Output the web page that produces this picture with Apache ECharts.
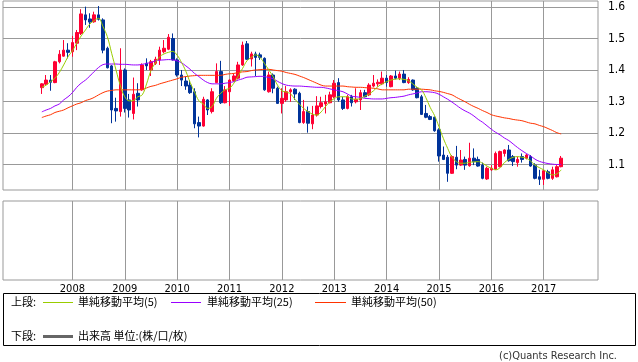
<!DOCTYPE html>
<html><head><meta charset="utf-8">
<script src="https://cdn.jsdelivr.net/npm/echarts@6/dist/echarts.min.js"></script>
<style>html,body{margin:0;padding:0;background:#fff}#c{width:638px;height:362px}</style>
</head><body><div id="c"></div>
<script>
const months = [
'2007-06','2007-07','2007-08','2007-09','2007-10','2007-11','2007-12',
'2008-01','2008-02','2008-03','2008-04','2008-05','2008-06','2008-07','2008-08','2008-09','2008-10','2008-11','2008-12',
'2009-01','2009-02','2009-03','2009-04','2009-05','2009-06','2009-07','2009-08','2009-09','2009-10','2009-11','2009-12',
'2010-01','2010-02','2010-03','2010-04','2010-05','2010-06','2010-07','2010-08','2010-09','2010-10','2010-11','2010-12',
'2011-01','2011-02','2011-03','2011-04','2011-05','2011-06','2011-07','2011-08','2011-09','2011-10','2011-11','2011-12',
'2012-01','2012-02','2012-03','2012-04','2012-05','2012-06','2012-07','2012-08','2012-09','2012-10','2012-11','2012-12',
'2013-01','2013-02','2013-03','2013-04','2013-05','2013-06','2013-07','2013-08','2013-09','2013-10','2013-11','2013-12',
'2014-01','2014-02','2014-03','2014-04','2014-05','2014-06','2014-07','2014-08','2014-09','2014-10','2014-11','2014-12',
'2015-01','2015-02','2015-03','2015-04','2015-05','2015-06','2015-07','2015-08','2015-09','2015-10','2015-11','2015-12',
'2016-01','2016-02','2016-03','2016-04','2016-05','2016-06','2016-07','2016-08','2016-09','2016-10','2016-11','2016-12',
'2017-01','2017-02','2017-03','2017-04','2017-05'];

const open = [
1.344,1.355,1.368,1.360,1.426,1.444,1.463,
1.458,1.485,1.516,1.575,1.562,1.553,1.575,1.559,1.469,1.413,1.278,1.268,
1.400,1.305,1.262,1.326,1.337,1.421,1.400,1.421,1.432,1.458,1.466,1.500,
1.432,1.384,1.365,1.352,1.331,1.233,1.222,1.305,1.268,1.360,1.395,1.296,
1.331,1.366,1.374,1.416,1.483,1.435,1.451,1.448,1.437,1.331,1.384,1.342,
1.294,1.305,1.331,1.339,1.326,1.233,1.268,1.229,1.257,1.284,1.292,1.296,
1.315,1.360,1.305,1.278,1.315,1.299,1.305,1.328,1.321,1.349,1.356,1.356,
1.374,1.347,1.381,1.374,1.387,1.360,1.368,1.342,1.315,1.262,1.252,1.250,
1.210,1.130,1.123,1.072,1.123,1.098,1.116,1.096,1.120,1.116,1.098,1.054,
1.083,1.085,1.093,1.135,1.146,1.125,1.106,1.125,1.120,1.125,1.098,1.061,
1.053,1.077,1.056,1.061,1.093];
const close = [
1.356,1.368,1.361,1.426,1.450,1.463,1.456,
1.487,1.519,1.578,1.559,1.552,1.575,1.561,1.463,1.407,1.273,1.270,1.400,
1.278,1.273,1.323,1.305,1.416,1.413,1.426,1.434,1.463,1.469,1.504,1.432,
1.384,1.368,1.349,1.328,1.229,1.222,1.307,1.273,1.331,1.395,1.296,1.337,
1.368,1.381,1.416,1.479,1.434,1.451,1.440,1.440,1.337,1.384,1.342,1.294,
1.310,1.331,1.337,1.324,1.233,1.268,1.231,1.257,1.286,1.296,1.299,1.321,
1.358,1.305,1.278,1.315,1.296,1.307,1.328,1.315,1.352,1.358,1.361,1.374,
1.360,1.381,1.374,1.387,1.360,1.370,1.337,1.312,1.259,1.250,1.243,1.207,
1.127,1.116,1.072,1.125,1.098,1.114,1.098,1.120,1.109,1.095,1.056,1.088,
1.088,1.135,1.141,1.146,1.112,1.109,1.116,1.116,1.130,1.095,1.056,1.053,
1.080,1.056,1.083,1.093,1.120];
const low = [
1.324,1.352,1.334,1.358,1.421,1.442,1.437,
1.442,1.463,1.511,1.543,1.534,1.550,1.557,1.453,1.405,1.231,1.236,1.252,
1.265,1.249,1.243,1.284,1.334,1.400,1.381,1.416,1.416,1.453,1.463,1.430,
1.379,1.349,1.337,1.324,1.215,1.186,1.220,1.257,1.262,1.358,1.292,1.294,
1.286,1.363,1.370,1.413,1.432,1.411,1.381,1.432,1.334,1.328,1.326,1.292,
1.262,1.299,1.299,1.305,1.231,1.229,1.201,1.212,1.252,1.278,1.262,1.294,
1.310,1.299,1.273,1.275,1.284,1.294,1.273,1.313,1.317,1.345,1.347,1.352,
1.347,1.345,1.370,1.368,1.358,1.356,1.334,1.310,1.257,1.247,1.241,1.204,
1.109,1.114,1.045,1.070,1.085,1.095,1.083,1.093,1.098,1.093,1.053,1.051,
1.080,1.083,1.091,1.125,1.109,1.095,1.093,1.106,1.116,1.093,1.053,1.035,
1.035,1.053,1.051,1.059,1.091];
const high = [
1.358,1.384,1.384,1.429,1.463,1.495,1.485,
1.508,1.527,1.593,1.601,1.580,1.585,1.603,1.564,1.474,1.416,1.312,1.469,
1.405,1.324,1.376,1.358,1.421,1.437,1.432,1.442,1.474,1.495,1.514,1.516,
1.437,1.400,1.379,1.368,1.342,1.252,1.315,1.307,1.342,1.421,1.429,1.349,
1.370,1.389,1.426,1.490,1.492,1.458,1.458,1.455,1.440,1.395,1.389,1.347,
1.342,1.349,1.342,1.342,1.331,1.305,1.284,1.286,1.317,1.315,1.321,1.331,
1.368,1.374,1.315,1.321,1.321,1.342,1.337,1.337,1.358,1.384,1.370,1.395,
1.384,1.384,1.398,1.395,1.400,1.377,1.370,1.345,1.321,1.289,1.257,1.252,
1.215,1.157,1.130,1.130,1.159,1.146,1.125,1.169,1.151,1.125,1.106,1.093,
1.098,1.141,1.144,1.148,1.162,1.130,1.125,1.135,1.133,1.130,1.104,1.083,
1.083,1.083,1.093,1.098,1.127];

const ma5 = [
1.345,1.352,1.363,1.374,1.392,1.416,1.442,
1.461,1.485,1.508,1.527,1.546,1.557,1.564,1.538,1.506,1.453,1.400,1.350,
1.315,1.302,1.303,1.315,1.321,1.356,1.398,1.422,1.442,1.451,1.456,1.459,
1.447,1.424,1.396,1.360,1.330,1.302,1.292,1.278,1.284,1.310,1.326,1.337,
1.342,1.358,1.381,1.405,1.429,1.440,1.448,1.440,1.421,1.400,1.379,1.352,
1.334,1.330,1.324,1.307,1.292,1.278,1.268,1.260,1.257,1.267,1.284,1.299,
1.309,1.315,1.315,1.315,1.308,1.307,1.310,1.317,1.324,1.334,1.347,1.356,
1.363,1.368,1.371,1.372,1.370,1.366,1.356,1.345,1.337,1.312,1.281,1.255,
1.220,1.183,1.151,1.123,1.109,1.104,1.104,1.107,1.108,1.109,1.104,1.095,
1.088,1.083,1.090,1.106,1.116,1.123,1.125,1.123,1.120,1.111,1.098,1.090,
1.083,1.074,1.067,1.070,1.083];
const ma25 = [
1.267,1.273,1.278,1.286,1.292,1.305,1.315,
1.328,1.345,1.358,1.368,1.381,1.395,1.408,1.417,1.419,1.419,1.419,1.418,
1.418,1.417,1.416,1.416,1.418,1.421,1.424,1.429,1.431,1.432,1.433,1.432,
1.429,1.423,1.413,1.402,1.389,1.379,1.368,1.360,1.356,1.356,1.356,1.358,
1.360,1.363,1.368,1.372,1.377,1.378,1.379,1.380,1.379,1.376,1.372,1.364,
1.357,1.352,1.350,1.349,1.349,1.348,1.347,1.346,1.345,1.345,1.343,1.340,
1.337,1.334,1.331,1.324,1.317,1.315,1.313,1.310,1.309,1.308,1.308,1.308,
1.310,1.312,1.313,1.315,1.317,1.321,1.324,1.327,1.331,1.331,1.330,1.328,
1.323,1.315,1.307,1.298,1.288,1.278,1.270,1.263,1.254,1.243,1.234,1.223,
1.212,1.202,1.194,1.184,1.176,1.165,1.154,1.144,1.135,1.127,1.117,1.110,
1.106,1.103,1.101,1.100,1.100];
const ma50 = [
1.249,1.254,1.258,1.265,1.269,1.273,1.280,
1.286,1.292,1.296,1.303,1.307,1.313,1.321,1.328,1.333,1.335,1.337,1.337,
1.337,1.337,1.337,1.337,1.338,1.343,1.348,1.351,1.356,1.360,1.364,1.368,
1.372,1.377,1.379,1.381,1.382,1.383,1.383,1.383,1.383,1.383,1.383,1.386,
1.388,1.389,1.392,1.394,1.395,1.398,1.400,1.401,1.402,1.402,1.400,1.398,
1.396,1.392,1.389,1.386,1.381,1.376,1.370,1.364,1.358,1.352,1.349,1.349,
1.349,1.349,1.349,1.347,1.346,1.345,1.345,1.344,1.343,1.342,1.340,1.337,
1.337,1.337,1.337,1.337,1.337,1.339,1.339,1.339,1.339,1.338,1.337,1.334,
1.332,1.329,1.325,1.321,1.313,1.306,1.299,1.291,1.284,1.278,1.271,1.265,
1.258,1.254,1.251,1.248,1.246,1.243,1.241,1.239,1.235,1.231,1.229,1.224,
1.220,1.214,1.208,1.201,1.197];

const yTicks = [1.1, 1.2, 1.3, 1.4, 1.5, 1.6];
const yearLabels = ['2008','2009','2010','2011','2012','2013','2014','2015','2016','2017'];

function monthIndex(s) { const p = s.split('-'); return (Number(p[0]) - 2000) * 12 + (Number(p[1]) - 1); }
const xs = months.map(monthIndex);
const yearTicks = yearLabels.map(y => (Number(y) - 2000) * 12);

const X_MIN = 80.1, X_MAX = 216.44;
const gridCol = '#999999';
const font = 'DejaVu Sans Condensed';
const jp = 'Noto Sans CJK JP';

const chart = echarts.init(document.getElementById('c'), null, {renderer: 'canvas'});
const xCommon = {
  type: 'value', min: X_MIN, max: X_MAX,
  axisLine: {show: false},
  axisTick: {show: false, customValues: yearTicks},
  splitLine: {show: true, lineStyle: {color: gridCol, width: 1}},
};
chart.setOption({
  animation: false,
  backgroundColor: '#ffffff',
  grid: [
    {left: 3, right: 40, top: 1, height: 189, show: true, borderColor: gridCol, borderWidth: 1, containLabel: false},
    {left: 3, right: 40, top: 201, height: 79, show: true, borderColor: gridCol, borderWidth: 1, containLabel: false}
  ],
  xAxis: [
    Object.assign({}, xCommon, {gridIndex: 0, axisLabel: {show: false, customValues: yearTicks}}),
    Object.assign({}, xCommon, {gridIndex: 1, axisLabel: {show: true, customValues: yearTicks, margin: 4,
      color: '#000', fontFamily: font, fontSize: 11,
      formatter: v => yearLabels[yearTicks.indexOf(v)] || ''}})
  ],
  yAxis: [
    {type: 'value', gridIndex: 0, position: 'right', min: 1.019, max: 1.619,
     axisLine: {show: false}, axisTick: {show: false, customValues: yTicks},
     axisLabel: {show: true, customValues: yTicks, margin: 10, color: '#000', fontFamily: font, fontSize: 12,
       formatter: v => v.toFixed(1)},
     splitLine: {show: true, lineStyle: {color: gridCol, width: 1}}},
    {type: 'value', gridIndex: 1, position: 'right', min: 0, max: 1,
     axisLine: {show: false}, axisTick: {show: false}, axisLabel: {show: false}, splitLine: {show: false}}
  ],
  series: [
    {type: 'candlestick', xAxisIndex: 0, yAxisIndex: 0, barWidth: 3,
     data: xs.map((x, i) => [x, open[i], close[i], low[i], high[i]]),
     itemStyle: {color: '#ff0033', color0: '#003399', borderColor: '#ff0033', borderColor0: '#003399', borderWidth: 1}},
    {type: 'line', xAxisIndex: 0, yAxisIndex: 0, showSymbol: false, smooth: 0.4,
     data: xs.map((x, i) => [x, ma50[i]]), lineStyle: {color: '#ff3300', width: 1}},
    {type: 'line', xAxisIndex: 0, yAxisIndex: 0, showSymbol: false, smooth: 0.4,
     data: xs.map((x, i) => [x, ma25[i]]), lineStyle: {color: '#9900ff', width: 1}},
    {type: 'line', xAxisIndex: 0, yAxisIndex: 0, showSymbol: false, smooth: 0.4,
     data: xs.map((x, i) => [x, ma5[i]]), lineStyle: {color: '#99cc00', width: 1}}
  ],
  graphic: [
    {type: 'rect', shape: {x: 3.5, y: 293.5, width: 632, height: 52}, style: {fill: 'none', stroke: '#000', lineWidth: 1}},
    {type: 'text', x: 11, y: 302, style: {text: '上段:', font: '11px "' + jp + '"', fill: '#000', verticalAlign: 'middle'}},
    {type: 'line', shape: {x1: 43, y1: 302.5, x2: 73, y2: 302.5}, style: {stroke: '#99cc00', lineWidth: 1}},
    {type: 'text', x: 78, y: 302, style: {text: '単純移動平均(5)', font: '11px "' + jp + '"', fill: '#000', verticalAlign: 'middle'}},
    {type: 'line', shape: {x1: 171, y1: 302.5, x2: 201, y2: 302.5}, style: {stroke: '#9900ff', lineWidth: 1}},
    {type: 'text', x: 207, y: 302, style: {text: '単純移動平均(25)', font: '11px "' + jp + '"', fill: '#000', verticalAlign: 'middle'}},
    {type: 'line', shape: {x1: 315, y1: 302.5, x2: 346, y2: 302.5}, style: {stroke: '#ff3300', lineWidth: 1}},
    {type: 'text', x: 351, y: 302, style: {text: '単純移動平均(50)', font: '11px "' + jp + '"', fill: '#000', verticalAlign: 'middle'}},
    {type: 'text', x: 11, y: 336, style: {text: '下段:', font: '11px "' + jp + '"', fill: '#000', verticalAlign: 'middle'}},
    {type: 'line', shape: {x1: 43, y1: 336.5, x2: 73, y2: 336.5}, style: {stroke: '#666666', lineWidth: 3}},
    {type: 'text', x: 78, y: 336, style: {text: '出来高 単位:(株/口/枚)', font: '11px "' + jp + '"', fill: '#000', verticalAlign: 'middle'}},
    {type: 'text', x: 617, y: 356, style: {text: '(c)Quants Research Inc.', font: '11px "' + font + '"', fill: '#333', align: 'right', verticalAlign: 'middle'}}
  ]
});
</script></body></html>
